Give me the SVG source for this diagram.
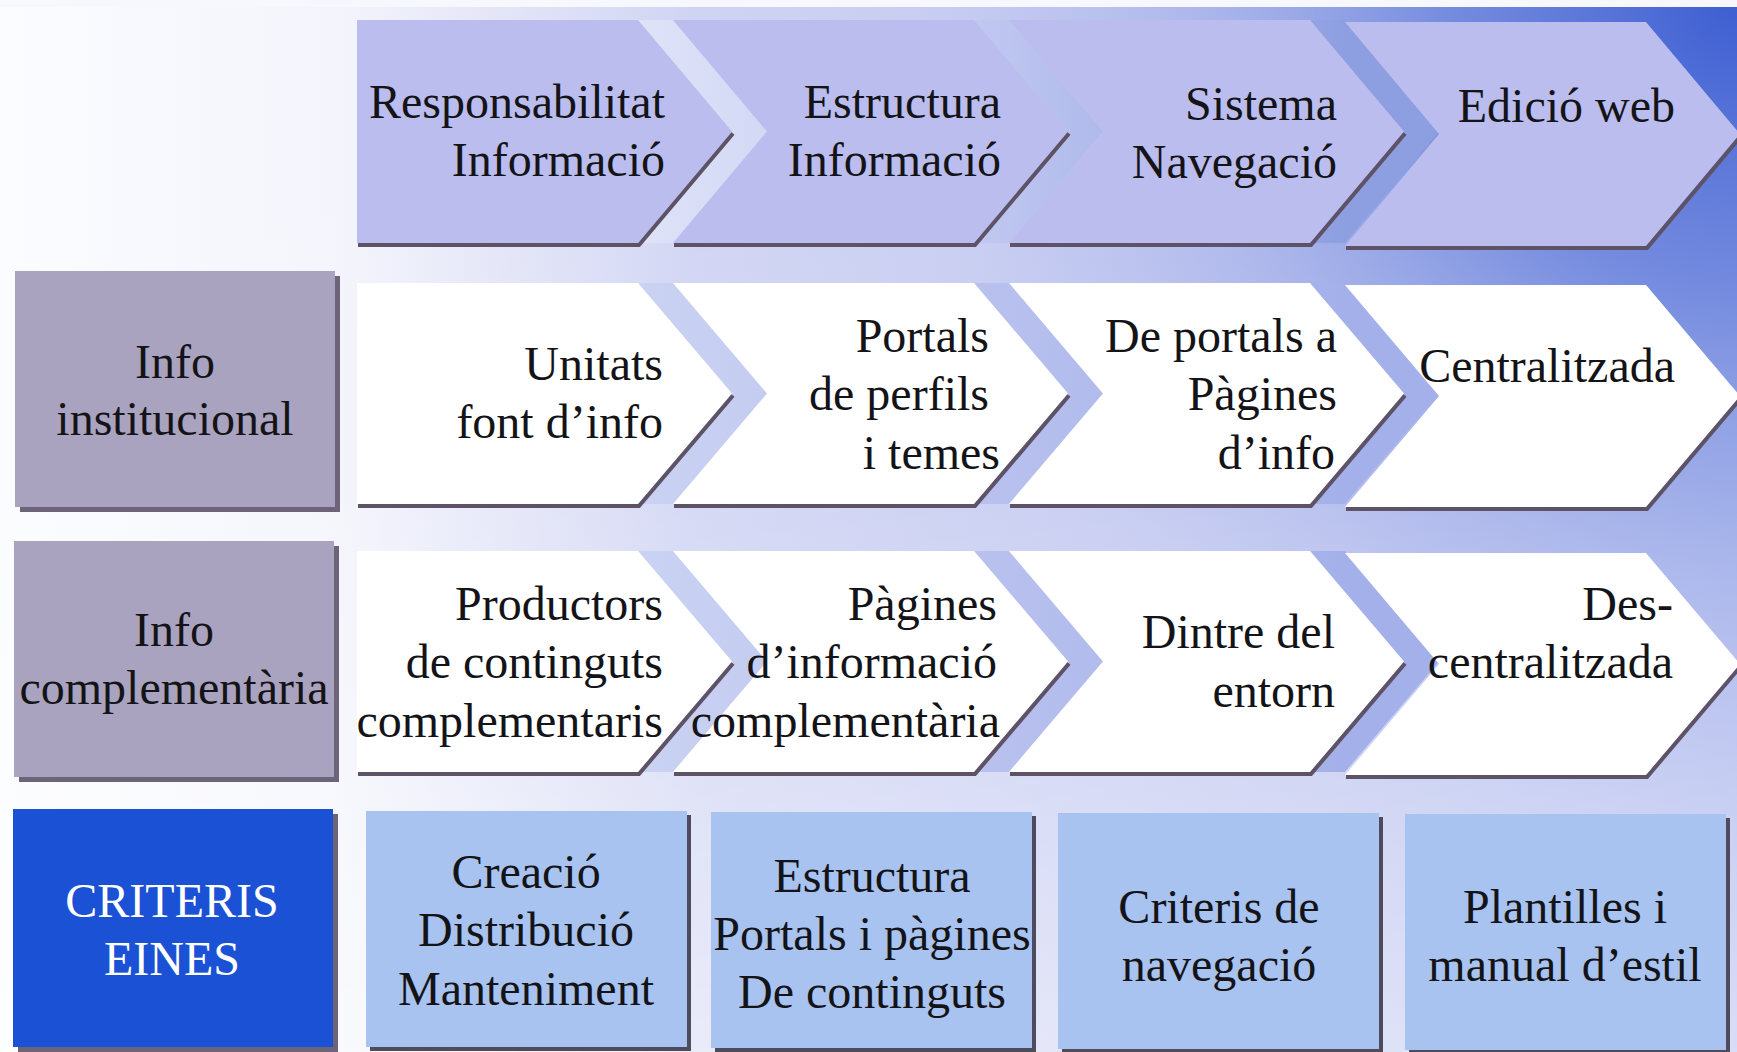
<svg xmlns="http://www.w3.org/2000/svg" width="1737" height="1052" viewBox="0 0 1737 1052">
<defs>
<linearGradient id="bgH" x1="0" y1="0" x2="1737" y2="0" gradientUnits="userSpaceOnUse">
<stop offset="0" stop-color="#fbfcff"/>
<stop offset="0.19" stop-color="#f4f5fc"/>
<stop offset="0.4" stop-color="#d0d4f3"/>
<stop offset="0.75" stop-color="#bcc3ef"/>
<stop offset="1" stop-color="#a9b5ec"/>
</linearGradient>
<linearGradient id="bgV" x1="0" y1="0" x2="0" y2="1052" gradientUnits="userSpaceOnUse">
<stop offset="0" stop-color="#ffffff" stop-opacity="0"/>
<stop offset="0.45" stop-color="#ffffff" stop-opacity="0.1"/>
<stop offset="1" stop-color="#ffffff" stop-opacity="0.55"/>
</linearGradient>
<radialGradient id="bgR" cx="1737" cy="0" r="820" gradientUnits="userSpaceOnUse">
<stop offset="0" stop-color="#3d5ed2" stop-opacity="1"/>
<stop offset="0.35" stop-color="#5f7ad9" stop-opacity="0.75"/>
<stop offset="0.7" stop-color="#8e9fe3" stop-opacity="0.3"/>
<stop offset="1" stop-color="#a9b5ec" stop-opacity="0"/>
</radialGradient>
<linearGradient id="b1g" x1="630" y1="0" x2="1350" y2="0" gradientUnits="userSpaceOnUse">
<stop offset="0" stop-color="#dfe4f8"/>
<stop offset="0.5" stop-color="#bfc7f0"/>
<stop offset="1" stop-color="#8d9ee1"/>
</linearGradient>
<linearGradient id="b2g" x1="630" y1="0" x2="1350" y2="0" gradientUnits="userSpaceOnUse">
<stop offset="0" stop-color="#cbd3f3"/>
<stop offset="0.5" stop-color="#b8c1ee"/>
<stop offset="1" stop-color="#a4b0e9"/>
</linearGradient>
<style>
.t{font-family:"Liberation Serif","Times New Roman",serif;font-size:48px;fill:#141418}
.r{text-anchor:end}
.c{text-anchor:middle}
.w{fill:#ffffff}
.top{fill:#bbbdee}
.wht{fill:#ffffff}
.band1{fill:url(#b1g)}
.band2{fill:url(#b2g)}
.sh{fill:none;stroke:#5e5266;stroke-width:4;stroke-linejoin:miter}
.lbl{fill:#aaa3bf}
.lsh{fill:#6d6479}
.bx{fill:#a8c3ef}
.bsh{fill:#4e4b5c}
</style>
</defs>
<rect x="0" y="0" width="1737" height="1052" fill="url(#bgH)"/>
<rect x="0" y="0" width="1737" height="1052" fill="url(#bgV)"/>
<rect x="0" y="0" width="1737" height="1052" fill="url(#bgR)"/>
<rect x="0" y="0" width="1737" height="7" fill="#f7f8fd"/>

<g id="connectors">
<polygon class="band1" points="638,20 673,20 767,131.5 673,243 638,243 732,131.5"/>
<polygon class="band1" points="974,20 1009,20 1103,131.5 1009,243 974,243 1068,131.5"/>
<polygon class="band1" points="1310,20 1345,20 1439,131.5 1345,243 1310,243 1404,131.5"/>
<polygon class="band2" points="638,283 673,283 767,393.5 673,504 638,504 732,393.5"/>
<polygon class="band2" points="974,283 1009,283 1103,393.5 1009,504 974,504 1068,393.5"/>
<polygon class="band2" points="1310,283 1345,283 1439,393.5 1345,504 1310,504 1404,393.5"/>
<polygon class="band2" points="638,551 673,551 767,661.5 673,772 638,772 732,661.5"/>
<polygon class="band2" points="974,551 1009,551 1103,661.5 1009,772 974,772 1068,661.5"/>
<polygon class="band2" points="1310,551 1345,551 1439,661.5 1345,772 1310,772 1404,661.5"/>
</g>

<g id="r1c1">
<polygon class="top" points="357,20 638,20 732,131.5 638,243 357,243"/>
<polyline class="sh" points="358,245 639,245 733,133.5"/>
<text class="t r" x="665" y="118">Responsabilitat</text>
<text class="t r" x="665" y="176">Informació</text>
</g>
<g id="r1c2">
<polygon class="top" points="673,20 974,20 1068,131.5 974,243 673,243 767,131.5"/>
<polyline class="sh" points="674,245 975,245 1069,133.5"/>
<text class="t r" x="1001" y="118">Estructura</text>
<text class="t r" x="1001" y="176">Informació</text>
</g>
<g id="r1c3">
<polygon class="top" points="1009,20 1310,20 1404,131.5 1310,243 1009,243 1103,131.5"/>
<polyline class="sh" points="1010,245 1311,245 1405,133.5"/>
<text class="t r" x="1337" y="120">Sistema</text>
<text class="t r" x="1337" y="178">Navegació</text>
</g>
<g id="r1c4">
<polygon class="top" points="1345,22 1646,22 1740,134 1646,246 1345,246 1439,134"/>
<polyline class="sh" points="1346,248 1647,248 1741,136"/>
<text class="t r" x="1675" y="122">Edició web</text>
</g>

<g id="r2c1">
<polygon class="wht" points="357,283 638,283 732,393.5 638,504 357,504"/>
<polyline class="sh" points="358,506 639,506 733,395.5"/>
<text class="t r" x="663" y="380">Unitats</text>
<text class="t r" x="663" y="438">font d’info</text>
</g>
<g id="r2c2">
<polygon class="wht" points="673,283 974,283 1068,393.5 974,504 673,504 767,393.5"/>
<polyline class="sh" points="674,506 975,506 1069,395.5"/>
<text class="t r" x="989" y="352">Portals</text>
<text class="t r" x="989" y="410">de perfils</text>
<text class="t r" x="1000" y="469">i temes</text>
</g>
<g id="r2c3">
<polygon class="wht" points="1009,283 1310,283 1404,393.5 1310,504 1009,504 1103,393.5"/>
<polyline class="sh" points="1010,506 1311,506 1405,395.5"/>
<text class="t r" x="1337" y="352">De portals a</text>
<text class="t r" x="1337" y="410">Pàgines</text>
<text class="t r" x="1335" y="469">d’info</text>
</g>
<g id="r2c4">
<polygon class="wht" points="1345,285 1646,285 1740,396 1646,507 1345,507 1439,396"/>
<polyline class="sh" points="1346,509 1647,509 1741,398"/>
<text class="t r" x="1675" y="382">Centralitzada</text>
</g>

<g id="r3c1">
<polygon class="wht" points="357,551 638,551 732,661.5 638,772 357,772"/>
<polyline class="sh" points="358,774 639,774 733,663.5"/>
<text class="t r" x="663" y="620">Productors</text>
<text class="t r" x="663" y="678">de continguts</text>
<text class="t r" x="663" y="737">complementaris</text>
</g>
<g id="r3c2">
<polygon class="wht" points="673,551 974,551 1068,661.5 974,772 673,772 767,661.5"/>
<polyline class="sh" points="674,774 975,774 1069,663.5"/>
<text class="t r" x="997" y="620">Pàgines</text>
<text class="t r" x="997" y="678">d’informació</text>
<text class="t r" x="1000" y="737">complementària</text>
</g>
<g id="r3c3">
<polygon class="wht" points="1009,551 1310,551 1404,661.5 1310,772 1009,772 1103,661.5"/>
<polyline class="sh" points="1010,774 1311,774 1405,663.5"/>
<text class="t r" x="1335" y="648">Dintre del</text>
<text class="t r" x="1335" y="707">entorn</text>
</g>
<g id="r3c4">
<polygon class="wht" points="1345,553 1646,553 1740,664 1646,775 1345,775 1439,664"/>
<polyline class="sh" points="1346,777 1647,777 1741,666"/>
<text class="t r" x="1673" y="620">Des-</text>
<text class="t r" x="1673" y="678">centralitzada</text>
</g>

<g id="lbl1">
<rect class="lsh" x="20" y="276" width="320" height="236"/>
<rect class="lbl" x="15" y="271" width="320" height="236"/>
<text class="t c" x="175" y="378">Info</text>
<text class="t c" x="175" y="435">institucional</text>
</g>
<g id="lbl2">
<rect class="lsh" x="19" y="546" width="320" height="236"/>
<rect class="lbl" x="14" y="541" width="320" height="236"/>
<text class="t c" x="174" y="646">Info</text>
<text class="t c" x="174" y="704">complementària</text>
</g>
<g id="lbl3">
<rect class="lsh" x="18" y="814" width="320" height="238"/>
<rect x="13" y="809" width="320" height="238" fill="#1b51d5"/>
<text class="t c w" x="172" y="917">CRITERIS</text>
<text class="t c w" x="172" y="975">EINES</text>
</g>

<g id="b1">
<rect class="bsh" x="370" y="815" width="321" height="236"/>
<rect class="bx" x="366" y="811" width="321" height="236"/>
<text class="t c" x="526" y="888">Creació</text>
<text class="t c" x="526" y="946">Distribució</text>
<text class="t c" x="526" y="1005">Manteniment</text>
</g>
<g id="b2">
<rect class="bsh" x="715" y="816" width="321" height="236"/>
<rect class="bx" x="711" y="812" width="321" height="236"/>
<text class="t c" x="872" y="892">Estructura</text>
<text class="t c" x="872" y="950">Portals i pàgines</text>
<text class="t c" x="872" y="1008">De continguts</text>
</g>
<g id="b3">
<rect class="bsh" x="1062" y="817" width="321" height="236"/>
<rect class="bx" x="1058" y="813" width="321" height="236"/>
<text class="t c" x="1219" y="923">Criteris de</text>
<text class="t c" x="1219" y="981">navegació</text>
</g>
<g id="b4">
<rect class="bsh" x="1409" y="818" width="321" height="236"/>
<rect class="bx" x="1405" y="814" width="321" height="236"/>
<text class="t c" x="1565" y="923">Plantilles i</text>
<text class="t c" x="1565" y="981">manual d’estil</text>
</g>
</svg>
